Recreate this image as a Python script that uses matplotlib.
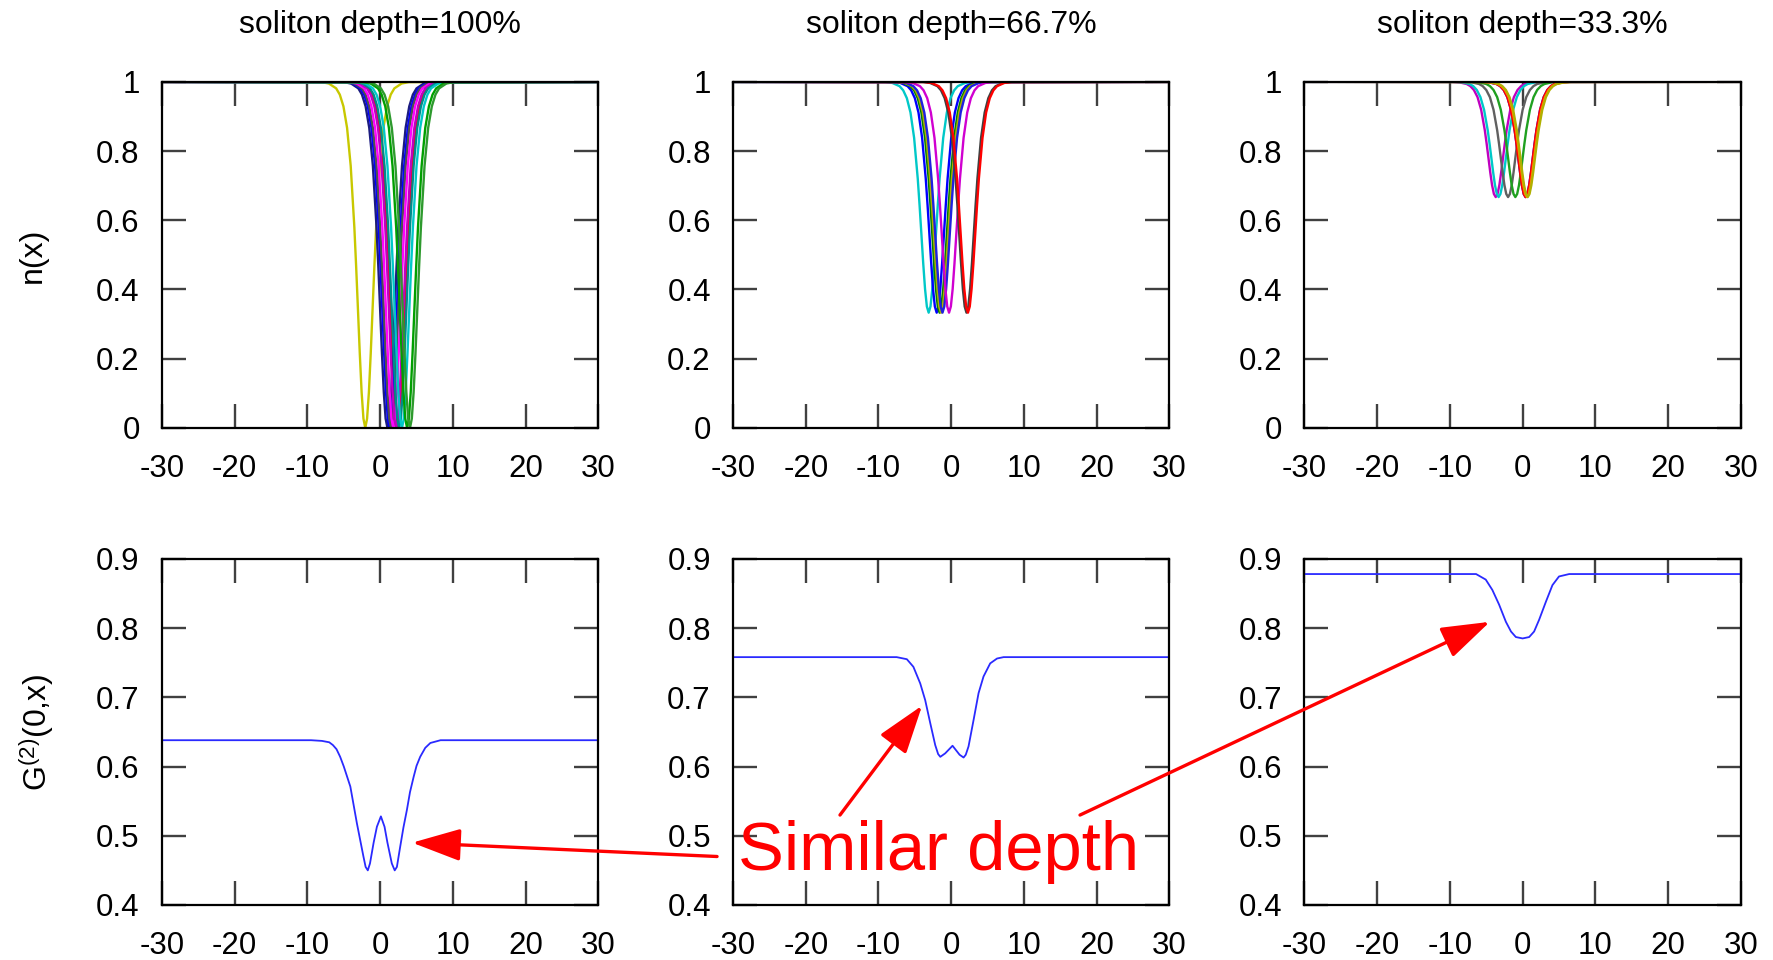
import matplotlib
matplotlib.use('Agg')
import matplotlib.pyplot as plt
import numpy as np
from matplotlib.patches import ConnectionPatch
from matplotlib.ticker import FormatStrFormatter

plt.rcParams['font.family'] = ['Liberation Sans', 'DejaVu Sans']
plt.rcParams['mathtext.default'] = 'regular'
plt.rcParams['axes.unicode_minus'] = False

# ---- data ----
panel_titles = ['soliton depth=100%', 'soliton depth=66.7%', 'soliton depth=33.3%']
soliton_depths = [1.0, 0.667, 0.333]

x_ticks = [-30, -20, -10, 0, 10, 20, 30]
n_ticks = [0, 0.2, 0.4, 0.6, 0.8, 1]
g2_ticks = [0.4, 0.5, 0.6, 0.7, 0.8, 0.9]

# shape of one dip (fraction of full depth vs. distance from its centre)
dip_offset = [-40, -6, -5, -4, -3.5, -3, -2.5, -2, -1.5, -1.25, -1, -0.75, -0.5, -0.25, 0,
              0.25, 0.5, 0.75, 1, 1.25, 1.5, 2, 2.5, 3, 3.5, 4, 5, 6, 40]
dip_frac = [0, 0.001, 0.005, 0.019, 0.037, 0.071, 0.133, 0.243, 0.42, 0.535, 0.66, 0.786, 0.897, 0.973, 1.0,
            0.973, 0.897, 0.786, 0.66, 0.535, 0.42, 0.243, 0.133, 0.071, 0.037, 0.019, 0.005, 0.001, 0]

# soliton centres of the individual realisations in each panel
centers_100 = [2.4, -2.05, 1.0, 1.3, 1.5, 1.8, 2.2, 2.6, 3.0, 3.7, 4.1]
centers_667 = [-3.1, -2.0, -1.6, -1.4, -1.2, -0.3, 2.1, 2.3]
centers_333 = [0.4, -3.7, -3.3, -2.0, -1.0, 0.4, 0.6, 0.7]

# G2(0,x) curves
g2_x_100 = [-30, -9.5, -8, -7, -6.5, -6, -5.5, -5, -4.1, -3.2, -2.3, -2.0, -1.7, -1.4, -0.9, -0.45, 0.1,
            0.6, 1.0, 1.6, 2.0, 2.3, 2.75, 3.2, 3.67, 4.1, 4.6, 5.0, 5.5, 6.2, 6.9, 8.3, 9.5, 30]
g2_y_100 = [0.638, 0.638, 0.637, 0.635, 0.631, 0.625, 0.614, 0.600, 0.571, 0.518, 0.470, 0.455, 0.450, 0.460,
            0.490, 0.513, 0.528, 0.513, 0.490, 0.460, 0.450, 0.455, 0.484, 0.512, 0.537, 0.563, 0.585, 0.601,
            0.614, 0.627, 0.634, 0.638, 0.638, 0.638]

g2_x_667 = [-30, -7.5, -6.1, -5.2, -4.26, -3.58, -2.89, -2.2, -1.8, -1.5, -0.83, 0.18,
            1.15, 1.7, 2.0, 2.38, 3.07, 3.76, 4.44, 5.36, 6.3, 7.2, 30]
g2_y_667 = [0.758, 0.758, 0.755, 0.744, 0.720, 0.696, 0.663, 0.631, 0.618, 0.614, 0.619, 0.630,
            0.617, 0.613, 0.617, 0.629, 0.667, 0.706, 0.730, 0.749, 0.756, 0.758, 0.758]

g2_x_333 = [-30, -7.5, -6.4, -5.07, -4.16, -3.24, -2.3, -1.6, -0.93, 0, 0.9, 1.58,
            2.27, 3.2, 4.1, 5.0, 6.4, 7.8, 30]
g2_y_333 = [0.878, 0.878, 0.878, 0.870, 0.855, 0.834, 0.809, 0.795, 0.787, 0.785, 0.787, 0.795,
            0.812, 0.838, 0.862, 0.8745, 0.878, 0.878, 0.878]

# ---- styles ----
colors_100 = ['#ff0000', '#c8c800', '#1c1c80', '#0000ff', '#505050', '#ff00ff', '#c000c0',
              '#008b8b', '#00c8c8', '#00a000', '#2e9a2e']
colors_667 = ['#00c8c8', '#0000ff', '#008000', '#b0b000', '#2020e0', '#d000d0', '#404040', '#ff0000']
colors_333 = ['#0000ff', '#c000c0', '#00c8c8', '#606060', '#20a020', '#ff0000', '#ff8c00', '#b0b000']

all_centers = [centers_100, centers_667, centers_333]
all_colors = [colors_100, colors_667, colors_333]
all_g2 = [(g2_x_100, g2_y_100), (g2_x_667, g2_y_667), (g2_x_333, g2_y_333)]

fig = plt.figure(figsize=(17.74, 9.6), dpi=100)

col_left = [0.0913, 0.4132, 0.7353]
ax_w = 0.2460
row_bottom = [0.5542, 0.0573]
ax_h = 0.3606

tick_font = 22.5


def style_axes(ax):
    for sp in ax.spines.values():
        sp.set_linewidth(1.6)
        sp.set_color('black')
    ax.tick_params(direction='in', length=17, width=1.7, color='#404040',
                   top=True, right=True, labelsize=tick_font)
    ax.tick_params(axis='x', pad=19)
    ax.tick_params(axis='y', pad=16)
    ax.set_facecolor('none')


top_axes = []
bottom_axes = []
dip_offset_arr = np.array(dip_offset)
dip_frac_arr = np.array(dip_frac)

for i in range(3):
    # density profiles
    ax = fig.add_axes([col_left[i], row_bottom[0], ax_w, ax_h])
    for c, col in zip(all_centers[i], all_colors[i]):
        ax.plot(c + dip_offset_arr, 1 - soliton_depths[i] * dip_frac_arr, color=col, lw=1.7)
    ax.set_xlim(-30, 30)
    ax.set_ylim(0, 1)
    ax.set_xticks(x_ticks)
    ax.set_yticks(n_ticks)
    ax.yaxis.set_major_formatter(FormatStrFormatter('%g'))
    style_axes(ax)
    top_axes.append(ax)

    fig.text(col_left[i] + ax_w / 2, 0.9735, panel_titles[i],
             ha='center', va='center', fontsize=23)

    # G2 correlation
    ax2 = fig.add_axes([col_left[i], row_bottom[1], ax_w, ax_h])
    gx, gy = all_g2[i]
    ax2.plot(gx, gy, color='#2a2aff', lw=1.3)
    ax2.set_xlim(-30, 30)
    ax2.set_ylim(0.4, 0.9)
    ax2.set_xticks(x_ticks)
    ax2.set_yticks(g2_ticks)
    ax2.yaxis.set_major_formatter(FormatStrFormatter('%g'))
    style_axes(ax2)
    bottom_axes.append(ax2)

# y labels
fig.text(0.0185, row_bottom[0] + ax_h / 2, 'n(x)', rotation=90,
         ha='center', va='center', fontsize=23)
fig.text(0.0205, row_bottom[1] + ax_h / 2, 'G$^{(2)}$(0,x)', rotation=90,
         ha='center', va='center', fontsize=23)

# annotation
fig.text(0.529, 0.0938, 'Similar depth', color='red', fontsize=49.5,
         ha='center', va='baseline')

arrows = [
    ((0.4042, 0.1078), bottom_axes[0], (4.4, 0.49)),
    ((0.4735, 0.1510), bottom_axes[1], (-4.0, 0.688)),
    ((0.6088, 0.1510), bottom_axes[2], (-4.5, 0.809)),
]
for start, tax, tip in arrows:
    con = ConnectionPatch(xyA=start, coordsA=fig.transFigure,
                          xyB=tip, coordsB=tax.transData,
                          arrowstyle='-|>,head_length=3,head_width=1',
                          mutation_scale=10, color='red', lw=2.4,
                          shrinkA=0, shrinkB=0)
    fig.add_artist(con)

plt.savefig('out.png', dpi=100, facecolor='white')
plt.close()
